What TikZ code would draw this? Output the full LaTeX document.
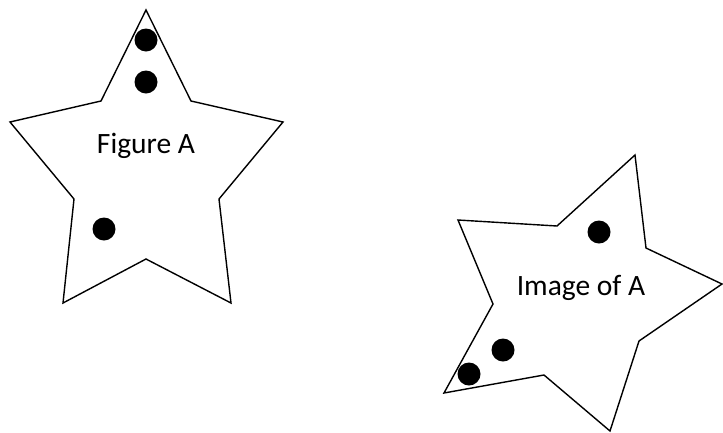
\documentclass[tikz,border=0pt]{standalone}
\usepackage{fontspec}
\setmainfont{Carlito}
\usetikzlibrary{positioning}

\begin{document}
\begin{tikzpicture}[
    x=1pt, y=-1pt,
    star/.style={draw=black, line width=1.4pt, line join=miter, fill=white},
    dot/.style={circle, fill=black, inner sep=0pt, minimum size=23pt},
    lbl/.style={font=\fontsize{29.5}{34}\selectfont, inner sep=0pt}
  ]
    \useasboundingbox (0,0) rectangle (723,432);

    % Figure A
    \draw[star] (146,10) -- (191,101) -- (283,122) -- (219,199) -- (231,303)
      -- (146,259) -- (63,303) -- (74,199) -- (10,122) -- (101,101) -- cycle;
    \node[dot] (a1) at (146,40) {};
    \node[dot] (a2) at (146,82) {};
    \node[dot] (a3) at (104,229) {};
    \node[lbl] (figa) at (146,146) {Figure A};

    % Image of A
    \draw[star] (635,155) -- (646,248) -- (722,284) -- (639,341) -- (610,431)
      -- (544,375) -- (444,393) -- (493,304) -- (458,220) -- (557,226) -- cycle;
    \node[dot] (b1) at (599,232) {};
    \node[dot] (b2) at (503,350) {};
    \node[dot] (b3) at (469,374) {};
    \node[lbl] (imga) at (581,288) {Image of A};
  \end{tikzpicture}
\end{document}
